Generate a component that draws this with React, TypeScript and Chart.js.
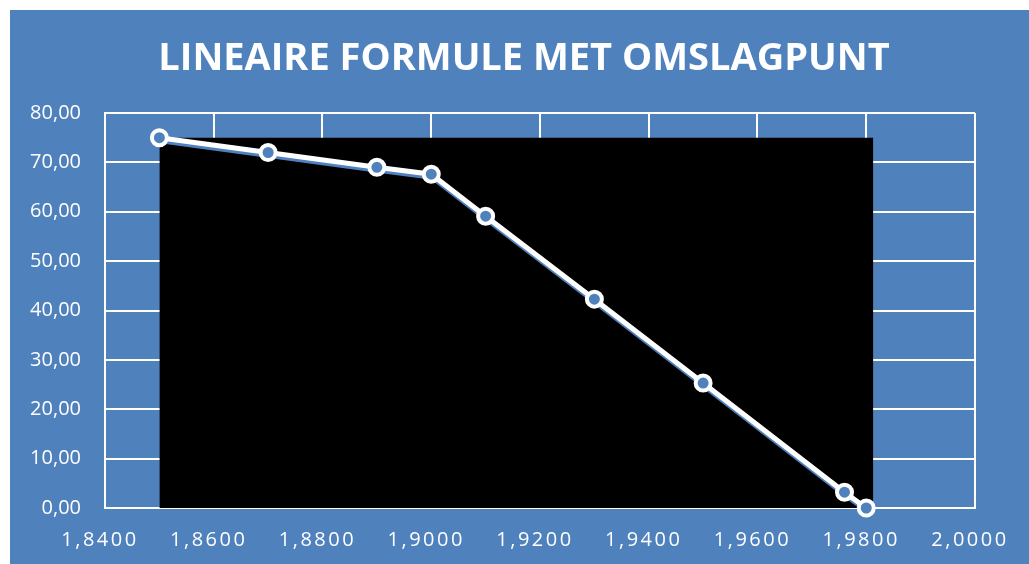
import React, { useEffect, useRef } from "react";
import { Chart, registerables } from "chart.js";

Chart.register(...registerables);

const TITLE = "LINEAIRE FORMULE MET OMSLAGPUNT";
const xValues = [1.85, 1.87, 1.89, 1.9, 1.91, 1.93, 1.95, 1.976, 1.98];
const yValues = [75.0, 72.0, 69.0, 67.6, 59.1, 42.3, 25.3, 3.2, 0];
const blockX = [1.85, 1.9813];
const blockY = [75, 75];
const X_MIN = 1.84;
const X_MAX = 2.0;
const X_STEP = 0.02;
const Y_MIN = 0;
const Y_MAX = 80;
const Y_STEP = 10;

const BLUE = "#4F81BD";

const fmtX = (v: number) => v.toFixed(4).replace(".", ",");
const fmtY = (v: number) => v.toFixed(2).replace(".", ",");

export default function App() {
  const ref = useRef<HTMLCanvasElement | null>(null);
  useEffect(() => {
    document.body.style.margin = "0";
    const points = xValues.map((x, i) => ({ x, y: yValues[i] }));
    const block = blockX.map((x, i) => ({ x, y: blockY[i] }));

    const shadowPlugin = {
      id: "lineShadow",
      beforeDatasetDraw(chart: any, args: any) {
        if (args.index === 1) {
          const ctx = chart.ctx;
          ctx.save();
          ctx.shadowColor = BLUE;
          ctx.shadowOffsetX = 1;
          ctx.shadowOffsetY = 3;
          ctx.shadowBlur = 0;
        }
      },
      afterDatasetDraw(chart: any, args: any) {
        if (args.index === 1) chart.ctx.restore();
      },
    };

    const textPlugin = {
      id: "texts",
      afterDraw(chart: any) {
        const sc = chart.scales.x;
        const ctx = chart.ctx;
        ctx.save();
        ctx.fillStyle = "#ffffff";
        ctx.font = 'bold 38px "Open Sans"';
        ctx.textAlign = "center";
        ctx.textBaseline = "alphabetic";
        ctx.fillText(TITLE, chart.width / 2 + 4.5, 60);
        ctx.font = '20px "Open Sans"';
        (ctx as any).letterSpacing = "2.5px";
        ctx.textBaseline = "middle";
        sc.ticks.forEach((t: any) => {
          const px = sc.getPixelForValue(t.value);
          ctx.fillText(fmtX(t.value), px - 5, sc.top + 32);
        });
        ctx.restore();
      },
    };

    const chart = new Chart(ref.current!, {
      type: "line",
      data: {
        datasets: [
          {
            data: points,
            showLine: false,
            pointRadius: 7.5,
            pointHoverRadius: 7.5,
            pointBackgroundColor: BLUE,
            pointBorderColor: "#ffffff",
            pointBorderWidth: 4,
            order: 1,
            clip: false as any,
          },
          {
            data: points,
            borderColor: "#ffffff",
            borderWidth: 5,
            pointRadius: 0,
            order: 2,
            clip: false as any,
          },
          {
            data: block,
            borderWidth: 0,
            borderColor: "rgba(0,0,0,0)",
            backgroundColor: "#000000",
            fill: "origin",
            pointRadius: 0,
            order: 3,
            clip: false as any,
          },
        ],
      },
      options: {
        animation: false,
        responsive: true,
        maintainAspectRatio: false,
        layout: { padding: { left: 0, right: 54, top: 103, bottom: 0 } },
        plugins: {
          legend: { display: false },
          tooltip: { enabled: false },
          title: { display: false },
        },
        scales: {
          x: {
            type: "linear",
            min: X_MIN,
            max: X_MAX,
            ticks: { stepSize: X_STEP, display: false },
            grid: { color: "#ffffff", lineWidth: 2, drawTicks: false },
            border: { color: "#ffffff", width: 2 },
            afterFit: (s: any) => {
              s.height = 56;
            },
          },
          y: {
            min: Y_MIN,
            max: Y_MAX,
            ticks: {
              stepSize: Y_STEP,
              color: "#ffffff",
              padding: 24,
              font: { family: "Open Sans", size: 20 },
              callback: (v: any) => fmtY(Number(v)),
            },
            grid: { color: "#ffffff", lineWidth: 2, drawTicks: false },
            border: { color: "#ffffff", width: 2 },
            afterFit: (s: any) => {
              s.width = 95;
            },
          },
        },
      },
      plugins: [shadowPlugin, textPlugin],
    } as any);
    return () => chart.destroy();
  }, []);

  return (
    <div
      style={{
        position: "absolute",
        left: 10,
        top: 10,
        width: 1019,
        height: 554,
        background: BLUE,
      }}
    >
      <canvas ref={ref} />
    </div>
  );
}
